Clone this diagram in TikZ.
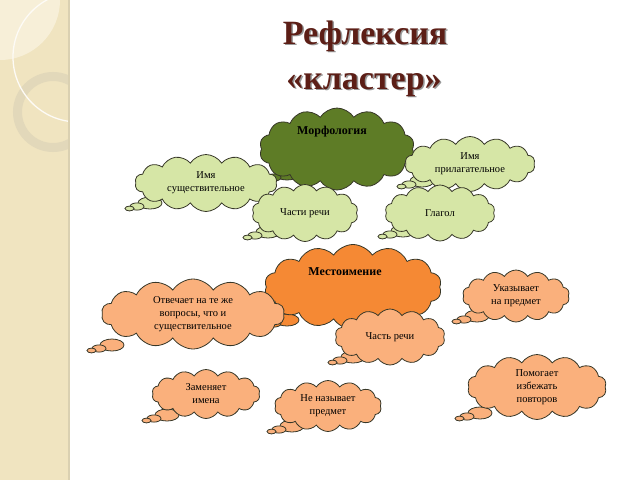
\documentclass[tikz,border=0pt]{standalone}
\usepackage{fontspec}
\setmainfont{Liberation Serif}
\usetikzlibrary{shapes.symbols}

\definecolor{bandbg}{RGB}{240,228,192}
\definecolor{bandlight}{RGB}{247,239,216}
\definecolor{bandring}{RGB}{226,216,186}
\definecolor{titlebrown}{RGB}{92,30,22}
\definecolor{morphgreen}{RGB}{94,124,38}
\definecolor{palegreen}{RGB}{214,230,166}
\definecolor{pronorange}{RGB}{245,137,52}
\definecolor{paleorange}{RGB}{250,176,124}
\definecolor{cloudline}{RGB}{55,55,40}

\begin{document}
\begin{tikzpicture}[x=1pt, y=-1pt,
  puff/.style={cloud, draw=cloudline, line width=0.8pt, cloud puffs=14,
    cloud puff arc=115, cloud ignores aspect, inner sep=0pt, align=center,
    font=\fontsize{10.5}{13}\selectfont},
  greenpuff/.style={puff, fill=palegreen},
  orangepuff/.style={puff, fill=paleorange},
  tailbubble/.style={draw=cloudline, line width=0.8pt},
  headtext/.style={font=\bfseries\fontsize{12}{14}\selectfont},
  titletext/.style={anchor=base, font=\bfseries\fontsize{34}{40}\selectfont}]
\useasboundingbox (0,0) rectangle (640,480);
% left band
\fill[bandbg] (0,0) rectangle (69,480);
\begin{scope}
\clip (0,0) rectangle (69,480);
\fill[bandlight] (0,0) circle (60);
\draw[bandring, line width=9pt] (53,112) circle (35.5);
\draw[white!85!bandbg, line width=1.3pt] (78,57) circle (65);
\end{scope}
\draw[bandring!90!black!60!bandbg, line width=1.5pt] (69,0) -- (69,480);
% title
\node[titletext, gray!80] (shadow1) at (366.5,45.5) {Рефлексия};
\node[titletext, gray!80] (shadow2) at (365.5,90.5) {«кластер»};
\node[titletext, titlebrown] (title1) at (365,44) {Рефлексия};
\node[titletext, titlebrown] (title2) at (364,89) {«кластер»};
% thought bubble tails
\foreach \tx/\ty/\col in {262/181/morphgreen, 397/188/palegreen, 125/210/palegreen,
    243/239/palegreen, 378/238/palegreen, 262/327/pronorange, 87/352/paleorange,
    328/364/paleorange, 452/323/paleorange, 455/420/paleorange, 142/422/paleorange,
    267/433/paleorange}{
  \draw[tailbubble, fill=\col] (\tx+25,\ty-7) ellipse (12 and 6);
  \draw[tailbubble, fill=\col] (\tx+12,\ty-3.5) ellipse (7 and 3.6);
  \draw[tailbubble, fill=\col] (\tx+4.5,\ty-1.5) ellipse (4.5 and 2.4);
}
% morphology cluster
\node[puff, fill=morphgreen, minimum width=155, minimum height=82] (morph) at (337,149) {};
\node[headtext] (morphtext) at (332,132) {Морфология};
\node[greenpuff, minimum width=130, minimum height=55] (adj) at (470,164) {Имя\\прилагательное};
\node[greenpuff, minimum width=142, minimum height=57] (noun) at (206,183) {Имя\\существительное};
\node[greenpuff, minimum width=106, minimum height=57] (parts) at (305,213) {Части речи};
\node[greenpuff, minimum width=110, minimum height=56] (verb) at (440,213) {Глагол};
% pronoun cluster
\node[puff, fill=pronorange, minimum width=177, minimum height=85] (pron) at (353,287) {};
\node[headtext] (prontext) at (345,272) {Местоимение};
\node[orangepuff, minimum width=183, minimum height=70] (answers) at (193,314) {Отвечает на те же\\вопросы, что и\\существительное};
\node[orangepuff, minimum width=110, minimum height=56] (part) at (390,337) {Часть речи};
\node[orangepuff, minimum width=107, minimum height=52] (points) at (516,296) {Указывает\\на предмет};
\node[orangepuff, minimum width=139, minimum height=65] (helps) at (537,387) {Помогает\\избежать\\повторов};
\node[orangepuff, minimum width=108, minimum height=49] (replaces) at (206,394) {Заменяет\\имена};
\node[orangepuff, minimum width=107, minimum height=51] (noname) at (328,406) {Не называет\\предмет};
\end{tikzpicture}
\end{document}
